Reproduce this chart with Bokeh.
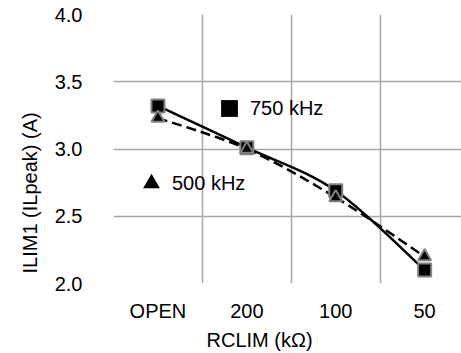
import numpy as np
from bokeh.plotting import figure
from bokeh.models import (Range1d, FixedTicker, Title, Legend, LegendItem,
                          ColumnDataSource, CustomJSTickFormatter)
from bokeh.embed import file_html
from bokeh.resources import INLINE

# ---- data ----
categories = ["OPEN", "200", "100", "50"]
ilim_750 = [3.32, 3.01, 2.69, 2.10]
ilim_500 = [3.23, 3.00, 2.64, 2.20]
y_ticks = [2.0, 2.5, 3.0, 3.5, 4.0]
series_names = ["750 kHz", "500 kHz"]
x_title = "RCLIM (kΩ)"
y_title = "ILIM1 (ILpeak) (A)"

FONT = "Liberation Sans"
FS = "20px"
GRID = "#a6a6a6"

xpos = [i + 0.5 for i in range(len(categories))]

p = figure(width=461, height=353, output_backend="svg", toolbar_location=None,
           x_range=Range1d(0, 3.915), y_range=Range1d(2.0, 4.0),
           min_border_left=113, min_border_right=0, min_border_top=14,
           min_border_bottom=70)
p.outline_line_color = None
p.background_fill_color = "white"
p.border_fill_color = "white"

# grid
p.xgrid.ticker = FixedTicker(ticks=list(range(len(categories))))
p.ygrid.ticker = FixedTicker(ticks=y_ticks)
for g in (p.xgrid, p.ygrid):
    g.grid_line_color = GRID
    g.grid_line_width = 1.5

# axes
p.xaxis.ticker = FixedTicker(ticks=xpos)
p.xaxis.major_label_overrides = {x: c for x, c in zip(xpos, categories)}
p.yaxis.ticker = FixedTicker(ticks=y_ticks)
p.yaxis.formatter = CustomJSTickFormatter(code="return tick.toFixed(1);")
for ax in (p.xaxis, p.yaxis):
    ax.axis_line_color = None
    ax.major_tick_line_color = None
    ax.minor_tick_line_color = None
    ax.major_label_text_font = FONT
    ax.major_label_text_font_size = FS
    ax.major_label_text_color = "black"
p.xaxis.major_label_standoff = 10
p.yaxis.major_label_standoff = 25


def smooth_segments(xs, ys):
    P = np.column_stack([xs, ys]).astype(float)
    ext = np.vstack([P[0], P, P[-1]])
    x0, y0, x1, y1, cx0, cy0, cx1, cy1 = ([] for _ in range(8))
    for i in range(len(P) - 1):
        p0, p1, p2, p3 = ext[i], ext[i + 1], ext[i + 2], ext[i + 3]
        c0 = p1 + (p2 - p0) / 6.0
        c1 = p2 - (p3 - p1) / 6.0
        x0.append(p1[0]); y0.append(p1[1]); x1.append(p2[0]); y1.append(p2[1])
        cx0.append(c0[0]); cy0.append(c0[1]); cx1.append(c1[0]); cy1.append(c1[1])
    return dict(x0=x0, y0=y0, x1=x1, y1=y1, cx0=cx0, cy0=cy0, cx1=cx1, cy1=cy1)


s750 = ColumnDataSource(smooth_segments(xpos, ilim_750))
s500 = ColumnDataSource(smooth_segments(xpos, ilim_500))
p.bezier(x0="x0", y0="y0", x1="x1", y1="y1", cx0="cx0", cy0="cy0", cx1="cx1", cy1="cy1",
         source=s500, line_color="black", line_width=2.5, line_dash="10 5")
p.bezier(x0="x0", y0="y0", x1="x1", y1="y1", cx0="cx0", cy0="cy0", cx1="cx1", cy1="cy1",
         source=s750, line_color="black", line_width=2.5)

p.scatter(xpos, ilim_750, marker="square", size=13, fill_color="black",
          line_color="#808080", line_width=2)
p.scatter(xpos, ilim_500, marker="triangle", size=13, fill_color="black",
          line_color="#808080", line_width=2)

# legend proxies (invisible on plot, drawn in legend)
leg750 = p.scatter(xpos, ilim_750, marker="square", size=0, fill_color="black",
                   line_color="black", line_width=0)
leg500 = p.scatter(xpos, ilim_500, marker="triangle", size=0, fill_color="black",
                   line_color="black", line_width=0)

for r, name, loc in ((leg750, series_names[0], (95, 154)),
                     (leg500, series_names[1], (17, 79))):
    lg = Legend(items=[LegendItem(label=name, renderers=[r])], location=loc,
                glyph_width=42, glyph_height=42, label_standoff=0,
                padding=0, margin=0, spacing=0,
                border_line_color=None, background_fill_alpha=0,
                label_text_font=FONT, label_text_font_size=FS,
                label_text_color="black")
    p.add_layout(lg, "center")

p.add_layout(Title(text=y_title, align="left", offset=10, standoff=22,
                   text_font=FONT, text_font_size=FS, text_font_style="normal",
                   text_color="black"), "left")
p.add_layout(Title(text=x_title, align="left", offset=93, standoff=4,
                   text_font=FONT, text_font_size=FS, text_font_style="normal",
                   text_color="black"), "below")

open("out.html", "w").write(file_html(p, INLINE))
